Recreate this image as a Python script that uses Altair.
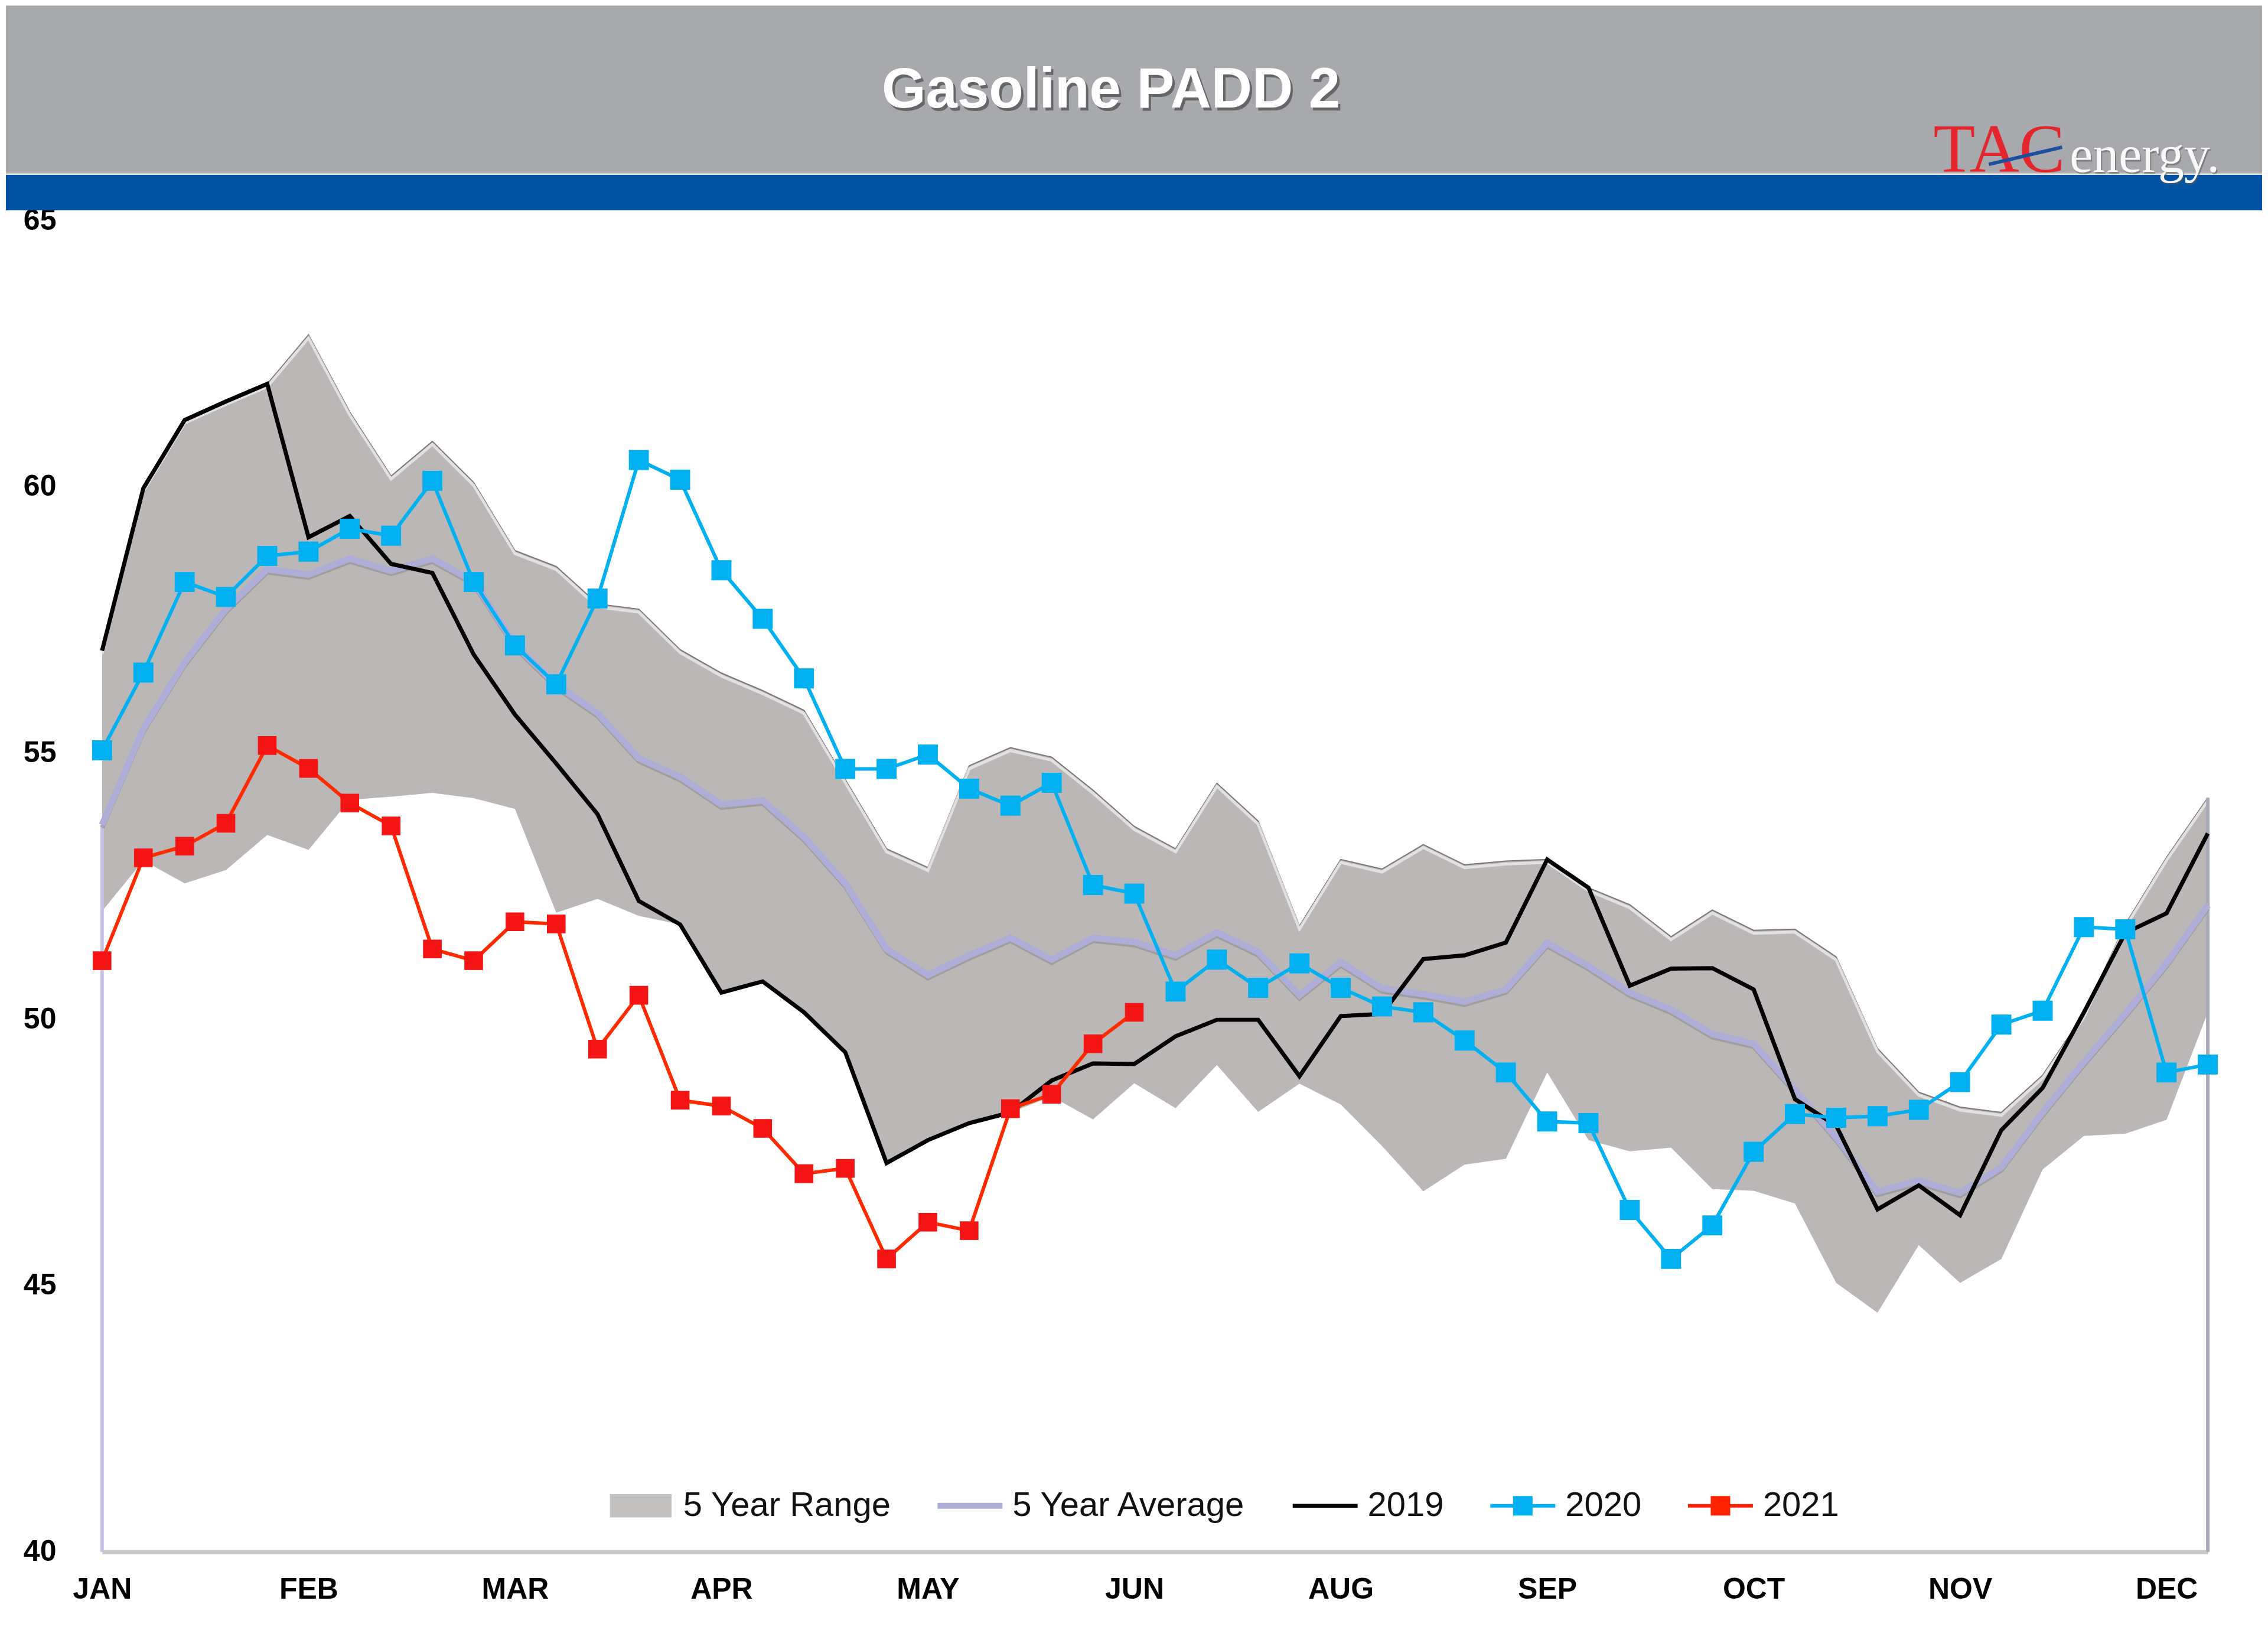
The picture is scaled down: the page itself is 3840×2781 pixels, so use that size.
import json
import pandas as pd
import altair as alt

# ---------------- data ----------------
weeks = list(range(52))
month_weeks = [0, 5, 10, 15, 20, 25, 30, 35, 40, 45, 50]
month_labels = ["JAN", "FEB", "MAR", "APR", "MAY", "JUN", "AUG", "SEP", "OCT", "NOV", "DEC"]
y_ticks = [40, 45, 50, 55, 60, 65]

range_low = [52.03, 52.98, 52.55, 52.8, 53.46, 53.18, 54.12, 54.18, 54.25, 54.15,
             53.95, 52.0, 52.26, 51.94, 51.78, 50.5, 50.71, 50.13, 49.38, 47.3,
             47.73, 48.05, 48.25, 48.55, 48.12, 48.8, 48.33, 49.14, 48.26, 48.79,
             48.4, 47.62, 46.77, 47.27, 47.38, 49.0, 47.73, 47.52, 47.59, 46.81,
             46.78, 46.54, 45.05, 44.49, 45.76, 45.05, 45.5, 47.18, 47.81, 47.85,
             48.11, 50.13]
range_high = [56.92, 59.97, 61.25, 61.6, 61.93, 62.85, 61.4, 60.2, 60.85, 60.08,
              58.8, 58.5, 57.8, 57.7, 56.94, 56.5, 56.17, 55.8, 54.5, 53.2,
              52.85, 54.76, 55.1, 54.92, 54.3, 53.62, 53.2, 54.43, 53.72, 51.75,
              53.0, 52.82, 53.28, 52.9, 52.97, 53.0, 52.47, 52.15, 51.55, 52.05,
              51.67, 51.69, 51.17, 49.45, 48.63, 48.35, 48.25, 48.95, 50.1, 51.78,
              53.04, 54.16]
avg5 = [53.65, 55.45, 56.7, 57.7, 58.45, 58.35, 58.65, 58.42, 58.65, 58.22,
        57.03, 56.28, 55.75, 54.9, 54.55, 54.03, 54.11, 53.42, 52.55, 51.32,
        50.83, 51.2, 51.53, 51.12, 51.53, 51.45, 51.2, 51.63, 51.26, 50.45,
        51.07, 50.58, 50.47, 50.33, 50.56, 51.43, 51.0, 50.5, 50.18, 49.72,
        49.54, 48.68, 47.78, 46.76, 46.97, 46.74, 47.22, 48.25, 49.2, 50.1,
        51.05, 52.14]
y2019 = [56.92, 59.97, 61.25, 61.6, 61.93, 59.05, 59.45, 58.55, 58.38, 56.85,
         55.72, 54.8, 53.85, 52.22, 51.78, 50.5, 50.71, 50.13, 49.38, 47.3,
         47.73, 48.05, 48.25, 48.85, 49.17, 49.16, 49.68, 49.99, 49.99, 48.93,
         50.06, 50.1, 51.13, 51.2, 51.44, 53.0, 52.47, 50.63, 50.95, 50.96,
         50.56, 48.5, 48.0, 46.43, 46.88, 46.32, 47.92, 48.71, 50.13, 51.62,
         51.99, 53.49]
y2020 = [55.05, 56.51, 58.21, 57.93, 58.7, 58.78, 59.21, 59.08, 60.11, 58.21,
         57.02, 56.29, 57.9, 60.5, 60.13, 58.43, 57.52, 56.4, 54.7, 54.7,
         54.97, 54.33, 54.01, 54.44, 52.52, 52.36, 50.52, 51.12, 50.59, 51.05,
         50.59, 50.24, 50.13, 49.6, 49.0, 48.08, 48.05, 46.42, 45.5, 46.13,
         47.51, 48.22, 48.15, 48.18, 48.3, 48.82, 49.9, 50.16, 51.73, 51.69,
         49.0, 49.15]
y2021 = [51.1, 53.03, 53.25, 53.68, 55.14, 54.71, 54.06, 53.63, 51.32, 51.1,
         51.83, 51.79, 49.44, 50.45, 48.48, 48.37, 47.95, 47.1, 47.2, 45.5,
         46.19, 46.03, 48.32, 48.59, 49.54, 50.13]

series_names = ["5 Year Range", "5 Year Average", "2019", "2020", "2021"]
legend_fills = ["#c2bfbf", "#adadd8", "#000000", "#00b0f0", "#ff2200"]
legend_shapes = [
    "M-0.95,-0.36H0.95V0.36H-0.95Z",
    "M-1,-0.09H1V0.09H-1Z",
    "M-1,-0.06H1V0.06H-1Z",
    "M-1,-0.055H1V0.055H-1ZM-0.3,-0.3H0.3V0.3H-0.3Z",
    "M-1,-0.055H1V0.055H-1ZM-0.3,-0.3H0.3V0.3H-0.3Z",
]

COL_RANGE = "#bbb7b6"
COL_AVG = "#adadd8"
COL_2019 = "#000000"
COL_2020 = "#00b0f0"
COL_2021 = "#ff2a00"
COL_2021_MK = "#f41414"

# ---------------- frames ----------------
range_df = pd.DataFrame({"week": weeks, "lo": range_low, "hi": range_high})
lines_df = pd.concat([
    pd.DataFrame({"week": weeks, "value": avg5, "series": "5 Year Average"}),
    pd.DataFrame({"week": weeks, "value": y2019, "series": "2019"}),
    pd.DataFrame({"week": weeks, "value": y2020, "series": "2020"}),
    pd.DataFrame({"week": weeks[:len(y2021)], "value": y2021, "series": "2021"}),
], ignore_index=True)
edge_df = pd.DataFrame({"week": [weeks[0], weeks[-1]], "lo": [40, 40],
                        "hi": [avg5[0], range_high[-1]], "kind": ["left", "right"]})
legend_df = pd.DataFrame({"series": series_names})
one = pd.DataFrame({"k": [0]})

W, H = 3569, 2256

# ---------------- scales / axes ----------------
label_expr = f"{json.dumps(month_labels)}[indexof({json.dumps(month_weeks)}, datum.value)]"
x_axis = alt.Axis(values=month_weeks, labelExpr=label_expr, title=None, grid=False,
                  ticks=False, tickSize=0, domain=True, domainColor="#c9c9c9",
                  domainWidth=7, labelFont="Liberation Sans", labelFontWeight="bold",
                  labelFontSize=50, labelColor="#000000", labelPadding=39,
                  labelAngle=0, labelFlush=False, labelOverlap=False)
y_axis = alt.Axis(values=y_ticks, format="d", title=None, grid=False, ticks=False,
                  tickSize=0, domain=False, labelFont="Liberation Sans",
                  labelFontWeight="bold", labelFontSize=50, labelColor="#000000",
                  labelPadding=78)
xs = alt.Scale(domain=[0, 51], nice=False, zero=False)
ys = alt.Scale(domain=[40, 65], nice=False, zero=False)
X = alt.X("week:Q", scale=xs, axis=x_axis, title=None)

legend = alt.Legend(orient="none", legendX=858, legendY=2123, direction="horizontal",
                    title=None, labelFont="Liberation Sans", labelFontSize=58,
                    labelColor="#111111", labelOffset=17, columnPadding=78,
                    labelLimit=0, symbolSize=12100, symbolStrokeWidth=0,
                    symbolOpacity=1, padding=0, rowPadding=0)

# legend-only layer (hidden behind the banner)
legend_layer = alt.Chart(legend_df).mark_point(filled=True, size=20, opacity=1).encode(
    x=alt.value(-100), y=alt.value(-300),
    color=alt.Color("series:N", scale=alt.Scale(domain=series_names, range=legend_fills),
                    legend=legend),
    shape=alt.Shape("series:N", scale=alt.Scale(domain=series_names, range=legend_shapes),
                    legend=legend),
)

# ---------------- banner ----------------
banner_gray = alt.Chart(one).mark_rect(color="#a8a9ad").encode(
    x=alt.value(-163), x2=alt.value(3661), y=alt.value(-364), y2=alt.value(-79))
banner_line = alt.Chart(one).mark_rule(color="#d2cfcb", strokeWidth=3).encode(
    x=alt.value(-163), x2=alt.value(3661), y=alt.value(-79))
banner_blue = alt.Chart(one).mark_rect(color="#0053a3").encode(
    x=alt.value(-163), x2=alt.value(3661), y=alt.value(-77), y2=alt.value(-17))
title_shadow = alt.Chart(one).mark_text(
    text="Gasoline PADD 2", font="Liberation Sans", fontWeight="bold", fontSize=96,
    color="#4a4a4a", opacity=0.7, align="center", baseline="middle").encode(
    x=alt.value(1714), y=alt.value(-215))
title_txt = alt.Chart(one).mark_text(
    text="Gasoline PADD 2", font="Liberation Sans", fontWeight="bold", fontSize=96,
    color="#ffffff", align="center", baseline="middle").encode(
    x=alt.value(1710), y=alt.value(-220))
logo_tac = alt.Chart(one).mark_text(
    text="TAC", font="Liberation Serif", fontSize=116, color="#e3262e",
    align="left", baseline="alphabetic").encode(x=alt.value(3104), y=alt.value(-82))
logo_swoosh = alt.Chart(one).mark_rule(color="#1d4f9e", strokeWidth=6).encode(
    x=alt.value(3198), x2=alt.value(3322), y=alt.value(-95), y2=alt.value(-124))
logo_energy_sh = alt.Chart(one).mark_text(
    text="energy.", font="Liberation Serif", fontSize=88, color="#555555", opacity=0.5,
    align="left", baseline="alphabetic").encode(x=alt.value(3337), y=alt.value(-79))
logo_energy = alt.Chart(one).mark_text(
    text="energy.", font="Liberation Serif", fontSize=88, color="#f8f8f8",
    align="left", baseline="alphabetic").encode(x=alt.value(3335), y=alt.value(-82))

# ---------------- data layers ----------------
area = alt.Chart(range_df).mark_area(opacity=1, color=COL_RANGE).encode(
    x=X, y=alt.Y("lo:Q", scale=ys, axis=y_axis, title=None), y2="hi:Q")
area_edge = alt.Chart(range_df).mark_line(color="#7f7676", strokeWidth=2).encode(
    x=X, y=alt.Y("hi:Q", scale=ys, title=None))
area_hl = alt.Chart(range_df).mark_line(color="#efefef", strokeWidth=5, yOffset=5,
                                        opacity=0.75).encode(
    x=X, y=alt.Y("hi:Q", scale=ys, title=None))
edge_left = alt.Chart(edge_df).transform_filter(alt.datum.kind == "left").mark_rule(
    color="#c6c6e2", strokeWidth=6).encode(
    x=X, y=alt.Y("lo:Q", scale=ys, title=None), y2="hi:Q")
edge_right = alt.Chart(edge_df).transform_filter(alt.datum.kind == "right").mark_rule(
    color="#a9a9b9", strokeWidth=6).encode(
    x=X, y=alt.Y("lo:Q", scale=ys, title=None), y2="hi:Q")


def line_layer(name, col, width, **kw):
    return alt.Chart(lines_df).transform_filter(alt.datum.series == name).mark_line(
        strokeWidth=width, color=col, **kw).encode(
        x=X, y=alt.Y("value:Q", scale=ys, title=None))


def point_layer(name, col, size):
    return alt.Chart(lines_df).transform_filter(alt.datum.series == name).mark_point(
        shape="square", filled=True, size=size, opacity=1, color=col).encode(
        x=X, y=alt.Y("value:Q", scale=ys, title=None))


chart = alt.layer(
    legend_layer,
    banner_gray, banner_blue, banner_line, title_shadow, title_txt,
    logo_tac, logo_swoosh, logo_energy_sh, logo_energy,
    area, area_edge, area_hl, edge_left, edge_right,
    line_layer("5 Year Average", "#6f6a6a", 8, yOffset=5, opacity=0.35),
    line_layer("5 Year Average", COL_AVG, 11),
    line_layer("2019", COL_2019, 7),
    line_layer("2020", COL_2020, 6), point_layer("2020", COL_2020, 1150),
    line_layer("2021", COL_2021, 6), point_layer("2021", COL_2021_MK, 1000),
).properties(width=W, height=H, padding=0).configure_view(stroke=None)

chart.save("out.html", embed_options={"renderer": "svg", "actions": False})
